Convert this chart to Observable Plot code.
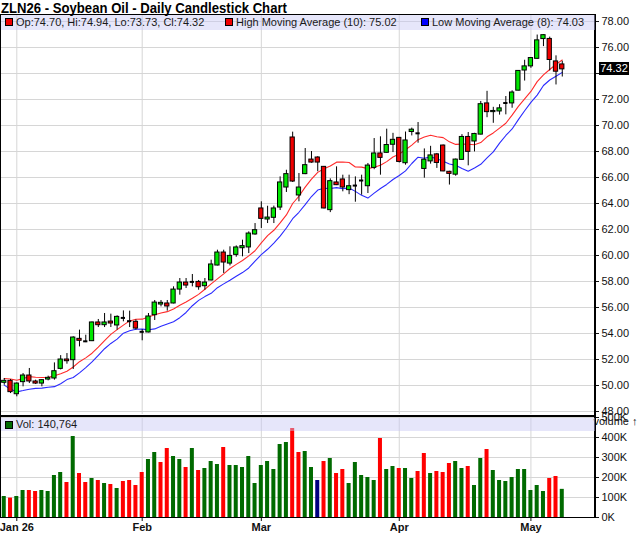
<!DOCTYPE html>
<html>
<head>
<meta charset="utf-8">
<script src="https://cdn.jsdelivr.net/npm/d3@7"></script>
<script src="https://cdn.jsdelivr.net/npm/@observablehq/plot@0.6"></script>
<style>
  body { margin: 0; background: #fff; font-family: "Liberation Sans", Arial, sans-serif; }
  #wrap { position: relative; width: 640px; height: 536px; overflow: hidden; background: #fff; }
  .abs { position: absolute; }
  #title { left: 1px; top: 0px; font-size: 15px; line-height: 15px; font-weight: bold; color: #000;
           white-space: nowrap; transform: scaleX(0.875); transform-origin: 0 0; }
  .band { position: absolute; left: 1px; width: 594px; background: rgba(200,200,245,0.45); }
  .lg { position: absolute; font-size: 11px; color: #1a1a1a; white-space: nowrap; }
  .sq { position: absolute; width: 6px; height: 6px; border: 1px solid #000; }
  .line { position: absolute; background: #000; }
  #last { position: absolute; left: 599px; width: 30px; height: 13px; line-height: 13px; background: #000;
          color: #fff; font-size: 11px; text-align: center; }
</style>
</head>
<body>
<div id="wrap">
  <div id="title" class="abs">ZLN26 - Soybean Oil - Daily Candlestick Chart</div>
</div>
<script>
// ---------- data ----------
const dates = [
  "2025-12-30","2025-12-31",
  "2026-01-02","2026-01-05","2026-01-06","2026-01-07","2026-01-08","2026-01-09",
  "2026-01-12","2026-01-13","2026-01-14","2026-01-15","2026-01-16",
  "2026-01-20","2026-01-21","2026-01-22","2026-01-23",
  "2026-01-26","2026-01-27","2026-01-28","2026-01-29","2026-01-30",
  "2026-02-02","2026-02-03","2026-02-04","2026-02-05","2026-02-06",
  "2026-02-09","2026-02-10","2026-02-11","2026-02-12","2026-02-13",
  "2026-02-17","2026-02-18","2026-02-19","2026-02-20",
  "2026-02-23","2026-02-24","2026-02-25","2026-02-26","2026-02-27",
  "2026-03-02","2026-03-03","2026-03-04","2026-03-05","2026-03-06",
  "2026-03-09","2026-03-10","2026-03-11","2026-03-12","2026-03-13",
  "2026-03-16","2026-03-17","2026-03-18","2026-03-19","2026-03-20",
  "2026-03-23","2026-03-24","2026-03-25","2026-03-26","2026-03-27",
  "2026-03-30","2026-03-31",
  "2026-04-01","2026-04-02",
  "2026-04-06","2026-04-07","2026-04-08","2026-04-09","2026-04-10",
  "2026-04-13","2026-04-14","2026-04-15","2026-04-16","2026-04-17",
  "2026-04-20","2026-04-21","2026-04-22","2026-04-23","2026-04-24",
  "2026-04-27","2026-04-28","2026-04-29","2026-04-30",
  "2026-05-01","2026-05-04","2026-05-05","2026-05-06","2026-05-07","2026-05-08"
];
const open = [
  50.21,50.36,49.33,50.26,50.77,50.31,50.15,50.46,50.54,51.28,
  52.00,51.95,53.59,53.40,53.41,54.85,54.64,54.92,54.62,55.20,
  54.95,54.90,54.13,54.08,55.41,56.23,56.31,56.31,57.38,57.92,
  57.97,57.97,57.64,58.08,59.23,60.23,59.38,60.05,60.56,60.62,
  61.62,63.62,62.77,62.90,63.69,65.23,69.08,64.62,66.26,67.38,
  67.54,66.82,63.49,65.62,65.85,65.03,65.38,65.77,65.33,66.74,
  67.85,67.90,68.52,69.05,67.10,69.50,69.40,66.66,67.24,67.78,
  68.46,66.44,66.22,67.36,69.12,68.77,69.30,71.70,71.03,71.08,
  71.73,71.70,72.68,74.23,74.55,75.13,76.65,76.66,74.93,74.70
];
const high = [
  50.54,50.46,50.20,50.92,51.31,50.41,50.45,50.72,51.74,52.30,
  52.46,53.75,54.26,53.87,54.88,55.08,55.54,55.49,55.36,55.74,
  55.72,55.05,54.30,55.54,56.54,56.54,56.54,57.59,58.23,58.23,
  58.54,58.08,58.23,59.64,60.41,60.41,60.67,60.74,61.18,61.82,
  62.46,64.13,63.79,63.80,66.05,66.56,69.49,66.31,68.23,68.00,
  67.60,66.85,65.90,66.82,66.18,66.18,66.05,66.18,67.08,69.00,
  69.13,69.72,69.40,69.08,69.50,69.80,70.23,68.20,68.40,67.85,
  68.50,66.48,67.42,69.30,69.46,69.40,71.85,72.63,71.40,71.60,
  72.23,72.67,74.21,75.02,75.20,76.96,76.98,76.80,75.36,74.94
];
const low = [
  50.03,49.38,49.13,49.90,50.15,50.08,49.90,50.36,50.41,51.20,
  51.64,51.23,52.97,53.30,53.38,54.46,54.46,54.46,54.26,54.90,
  54.46,54.26,53.44,54.05,55.00,56.05,55.72,56.28,56.95,57.46,
  57.59,57.33,57.33,58.05,59.20,58.62,59.20,59.87,59.90,60.15,
  61.56,62.08,62.46,62.46,63.46,64.85,65.62,64.13,66.22,67.10,
  66.44,63.58,63.30,65.38,64.90,64.68,64.10,64.64,64.77,66.60,
  66.18,67.88,67.92,67.12,66.95,69.20,68.64,65.95,67.03,66.70,
  66.44,65.42,66.10,67.33,66.90,67.97,69.28,70.60,70.17,70.80,
  70.82,71.33,72.67,73.42,74.40,75.10,76.07,74.20,73.12,73.73
];
const close = [
  50.36,49.49,50.15,50.77,50.31,50.15,50.41,50.59,51.10,52.00,
  51.87,53.69,53.44,53.40,54.85,54.64,54.85,54.77,55.28,55.20,
  54.95,54.38,54.13,55.31,56.38,56.36,56.08,57.38,57.92,57.69,
  57.97,57.56,57.92,59.31,60.23,59.46,59.97,60.62,60.72,61.69,
  61.95,62.82,62.92,63.62,65.62,66.26,65.69,65.23,66.95,67.15,
  67.15,63.62,65.72,65.41,65.23,65.33,65.38,65.77,66.92,67.85,
  67.51,68.50,68.90,67.20,68.85,69.68,69.40,67.37,67.70,67.12,
  66.47,66.28,67.38,69.12,67.97,69.35,71.64,71.03,71.12,71.32,
  71.73,72.54,74.20,74.55,75.19,76.55,76.95,75.04,74.14,74.32
];
const volume = [
  105000,97000,105000,135000,135000,130000,135000,130000,210000,225000,
  175000,405000,220000,175000,195000,185000,170000,165000,145000,180000,
  185000,160000,225000,290000,325000,275000,345000,305000,290000,250000,
  345000,235000,245000,280000,265000,350000,260000,260000,250000,305000,
  170000,260000,280000,240000,365000,375000,445000,325000,330000,250000,
  185000,280000,295000,220000,240000,170000,275000,210000,200000,185000,
  395000,240000,255000,245000,245000,195000,230000,320000,220000,230000,
  225000,270000,280000,245000,255000,160000,295000,340000,235000,185000,
  180000,200000,240000,240000,135000,160000,130000,195000,205000,140764
];
const priceTicks = [48,50,52,54,56,58,60,62,64,66,68,70,72,74,76,78];
const volumeTicks = [0,100000,200000,300000,400000,500000];
const monthTickDates = ["2026-01-02","2026-02-02","2026-03-02","2026-04-01","2026-05-01"];
const monthTickLabels = ["Jan 26","Feb","Mar","Apr","May"];
const legendText = {
  ohlc: "Op:74.70, Hi:74.94, Lo:73.73, Cl:74.32",
  hma: "High Moving Average (10): 75.02",
  lma: "Low Moving Average (8): 74.03",
  vol: "Vol: 140,764"
};

// ---------- derived ----------
function sma(arr, k) {
  return arr.map((_, i) => d3.mean(arr.slice(Math.max(0, i - k + 1), i + 1)));
}
const hma = sma(high, 10);
const lma = sma(low, 8);
const bars = dates.map((date, i) => ({
  i, date, open: open[i], high: high[i], low: low[i], close: close[i], volume: volume[i],
  hma: hma[i], lma: lma[i],
  dir: i === 0 ? 1 : Math.sign(close[i] - close[i - 1])
}));
const tickIdx = monthTickDates.map(d => dates.indexOf(d));
const bodies = bars.filter(d => Math.abs(d.open - d.close) >= 0.03);
const dojis = bars.filter(d => Math.abs(d.open - d.close) < 0.03);
const lastClose = close[close.length - 1];
// the last-price tag covers the tick label nearest to it (as in the reference)
const labelTicks = priceTicks.filter(t => Math.abs(t - lastClose) > 0.7);

const X_DOMAIN = [-0.44, 94.3];
const HW = 0.34, VW = 0.32;
const GREEN = "#00e600", RED = "#f00000";
const VCOL = d => d.dir > 0 ? "#006a00" : d.dir < 0 ? "#ff0000" : "#000080";
const GRID = "#d6d6d6";
const style = { fontFamily: '"Liberation Sans", Arial, sans-serif', fontSize: "11px", color: "#111",
                background: "transparent", overflow: "visible" };

const price = Plot.plot({
  width: 640, height: 401,
  marginTop: 1, marginBottom: 0, marginLeft: 1, marginRight: 45,
  x: { domain: X_DOMAIN, axis: null },
  y: { domain: [47.77, 78.54], axis: null },
  style,
  marks: [
    Plot.ruleY(priceTicks, { stroke: GRID }),
    Plot.ruleX(tickIdx, { stroke: GRID }),
    Plot.line(bars, { x: "i", y: "hma", stroke: "#ff2a2a", strokeWidth: 1.1 }),
    Plot.line(bars, { x: "i", y: "lma", stroke: "#2a2aff", strokeWidth: 1.1 }),
    Plot.ruleX(bars, { x: "i", y1: "low", y2: "high", stroke: "#000", strokeWidth: 1 }),
    Plot.rect(bodies, {
      x1: d => d.i - HW, x2: d => d.i + HW, y1: "open", y2: "close",
      fill: d => d.close > d.open ? GREEN : RED, stroke: "#000", strokeWidth: 1
    }),
    Plot.ruleY(dojis, { x1: d => d.i - HW, x2: d => d.i + HW, y: "close", stroke: "#000", strokeWidth: 2 }),
    Plot.axisY(priceTicks, { anchor: "right", tickSize: 3, text: null }),
    Plot.axisY(labelTicks, { anchor: "right", tickFormat: d => d.toFixed(2), tickSize: 0, tickPadding: 6 })
  ]
});

const vol = Plot.plot({
  width: 640, height: 122,
  marginTop: 2, marginBottom: 19, marginLeft: 1, marginRight: 45,
  x: { domain: X_DOMAIN, axis: null },
  y: { domain: [0, 505000], axis: null },
  style,
  marks: [
    Plot.ruleY(volumeTicks, { stroke: GRID }),
    Plot.ruleX(tickIdx, { stroke: GRID }),
    Plot.rect(bars, { x1: d => d.i - VW, x2: d => d.i + VW, y1: 0, y2: "volume", fill: VCOL }),
    Plot.axisY(volumeTicks, { anchor: "right", tickFormat: d => (d / 1000) + "K", tickSize: 3, tickPadding: 3 }),
    Plot.axisX(tickIdx, {
      anchor: "bottom", tickSize: 4, tickPadding: 2, fontWeight: "bold",
      tickFormat: d => monthTickLabels[tickIdx.indexOf(d)]
    })
  ]
});

const wrap = document.getElementById("wrap");
price.style.position = "absolute"; price.style.left = "0px"; price.style.top = "13px";
vol.style.position = "absolute"; vol.style.left = "0px"; vol.style.top = "414px";
wrap.appendChild(price);
wrap.appendChild(vol);

function add(html) { wrap.insertAdjacentHTML("beforeend", html); }
// frame lines
add('<div class="line" style="left:0px;top:14px;width:1px;height:504px"></div>');
add('<div class="line" style="left:0px;top:14px;width:596px;height:1px"></div>');
add('<div class="line" style="left:0px;top:415px;width:596px;height:2px"></div>');
add('<div class="line" style="left:0px;top:517px;width:596px;height:1px"></div>');
add('<div class="line" style="left:594px;top:14px;width:2px;height:504px"></div>');
// price legend
add('<div class="band" style="top:15px;height:15px"></div>');
add('<div class="sq" style="left:5px;top:18px;background:#f00000"></div>');
add('<div class="lg" style="left:16px;top:15px;line-height:15px">' + legendText.ohlc + '</div>');
add('<div class="sq" style="left:225px;top:18px;background:#f00000"></div>');
add('<div class="lg" style="left:236px;top:15px;line-height:15px">' + legendText.hma + '</div>');
add('<div class="sq" style="left:421px;top:18px;background:#0000ff"></div>');
add('<div class="lg" style="left:432px;top:15px;line-height:15px">' + legendText.lma + '</div>');
// volume legend
add('<div class="band" style="top:418px;height:13px"></div>');
add('<div class="sq" style="left:5px;top:421px;background:#006a00"></div>');
add('<div class="lg" style="left:16px;top:418px;line-height:13px">' + legendText.vol + '</div>');
// last price tag
const ly = 13 + price.scale("y").apply(lastClose);
add('<div id="last" style="top:' + (ly - 6.5) + 'px">' + lastClose.toFixed(2) + '</div>');
// title on top
wrap.appendChild(document.getElementById("title"));
</script>
</body>
</html>
